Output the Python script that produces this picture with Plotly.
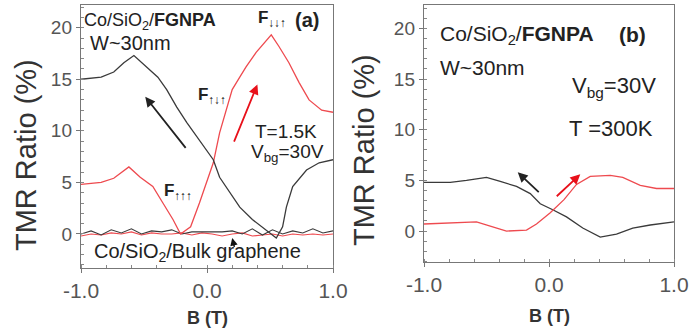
import plotly.graph_objects as go

# ---------------- data ----------------
# Panel (a): FGNPA, T = 1.5 K
a_black_B = [-1.0, -0.84, -0.74, -0.66, -0.58, -0.50, -0.39, -0.32, -0.24, -0.16, -0.06,
             0.05, 0.10, 0.18, 0.26, 0.36, 0.47, 0.55, 0.60, 0.63, 0.68, 0.79, 0.89, 1.0]
a_black_T = [15.0, 15.2, 15.7, 16.6, 17.3, 16.4, 15.2, 14.0, 12.3, 10.8, 9.1,
             7.2, 5.5, 4.0, 2.6, 1.4, 0.4, -0.4, 0.7, 2.6, 4.6, 6.2, 6.9, 7.2]

a_red_B = [-1.0, -0.84, -0.74, -0.62, -0.53, -0.43, -0.35, -0.27, -0.21, -0.13, -0.06,
           0.0, 0.05, 0.10, 0.16, 0.20, 0.26, 0.31, 0.39, 0.47, 0.51, 0.57, 0.65, 0.73,
           0.81, 0.91, 1.0]
a_red_T = [4.8, 5.0, 5.4, 6.5, 5.5, 4.6, 3.0, 1.4, 0.0, 0.7, 3.0,
           5.2, 6.9, 9.8, 12.3, 14.0, 15.2, 16.2, 17.6, 18.8, 19.3, 18.2, 16.6, 14.7,
           13.0, 12.0, 11.8]

# Bulk graphene reference device (near zero)
bulk_B = [-1.0, -0.92, -0.84, -0.76, -0.68, -0.60, -0.52, -0.44, -0.36, -0.28, -0.20,
          -0.12, -0.04, 0.04, 0.12, 0.20, 0.28, 0.36, 0.44, 0.52, 0.60, 0.68, 0.76,
          0.84, 0.92, 1.0]
bulk_black_T = [0.0, 0.3, -0.1, 0.4, 0.1, 0.5, 0.0, 0.3, 0.2, 0.4, 0.0, 0.2, 0.2,
                0.2, 0.2, 0.3, 0.0, 0.5, -0.1, 0.4, 0.0, 0.3, 0.1, 0.5, 0.1, 0.3]
bulk_red_T = [-0.2, 0.0, -0.1, 0.1, 0.0, 0.2, -0.1, 0.1, 0.0, 0.0, 0.1, -0.1, 0.1,
              0.0, -0.2, 0.0, 0.1, -0.2, -0.1, 0.0, -0.2, 0.0, -0.1, 0.0, -0.1, 0.0]

# Panel (b): FGNPA, T = 300 K
b_black_B = [-1.0, -0.79, -0.66, -0.50, -0.39, -0.26, -0.15, -0.07, 0.03, 0.14, 0.27,
             0.41, 0.54, 0.67, 0.81, 1.0]
b_black_T = [4.8, 4.8, 5.0, 5.3, 4.9, 4.4, 3.7, 2.7, 2.1, 1.4, 0.3,
             -0.6, -0.3, 0.3, 0.6, 0.9]

b_red_B = [-1.0, -0.79, -0.58, -0.47, -0.34, -0.18, -0.10, 0.01, 0.12, 0.22, 0.33,
           0.49, 0.59, 0.73, 0.86, 1.0]
b_red_T = [0.7, 0.8, 0.9, 0.5, 0.0, 0.1, 0.7, 1.8, 3.1, 4.6, 5.4,
           5.5, 5.3, 4.5, 4.2, 4.2]

x_tickvals = [-1.0, 0.0, 1.0]
x_ticktext = ["-1.0", "0.0", "1.0"]
y_tickvals = [0, 5, 10, 15, 20]
y_ticktext = ["0", "5", "10", "15", "20"]

# ---------------- styling ----------------
BLACK = "#3a3a3a"
RED = "#ee4a4f"
ARROW_RED = "#e8101a"
TXT = "#222222"
TICK = "#555555"
FONT = "Liberation Sans, Arial, sans-serif"
W, H = 694, 332

fig = go.Figure()

def line(x, y, color, xa, ya, width=1.3):
    fig.add_trace(go.Scatter(x=x, y=y, mode="lines", xaxis=xa, yaxis=ya,
                             line=dict(color=color, width=width), showlegend=False,
                             hoverinfo="skip"))

line(bulk_B, bulk_red_T, RED, "x", "y", 1.1)
line(bulk_B, bulk_black_T, BLACK, "x", "y", 1.1)
line(a_red_B, a_red_T, RED, "x", "y")
line(a_black_B, a_black_T, BLACK, "x", "y")
line(b_black_B, b_black_T, BLACK, "x2", "y2")
line(b_red_B, b_red_T, RED, "x2", "y2")

def px(x):
    return x / W

def py(y):
    return 1 - y / H

axis_common = dict(showgrid=False, zeroline=False, showline=True, linecolor="#777777",
                   linewidth=1.4, mirror=True, ticks="outside", ticklen=4,
                   automargin=False,
                   tickcolor="#777777")
xfont = dict(family=FONT, size=21, color=TICK)
yfont = dict(family=FONT, size=19, color=TICK)

fig.update_layout(
    width=W, height=H, autosize=False,
    margin=dict(l=0, r=0, t=0, b=0, pad=0),
    paper_bgcolor="white", plot_bgcolor="white",
    xaxis=dict(domain=[px(81), px(333)], range=[-1, 1], anchor="y",
               tickvals=x_tickvals, ticktext=x_ticktext, tickfont=xfont,
               minor=dict(ticks="inside", ticklen=3, dtick=0.2, tickcolor="#888888"),
               **axis_common),
    yaxis=dict(domain=[py(268), py(5)], range=[-3.3, 22.2], anchor="x",
               tickvals=y_tickvals, ticktext=y_ticktext, tickfont=yfont,
               minor=dict(ticks="inside", ticklen=3, dtick=1, tickcolor="#888888"),
               **axis_common),
    xaxis2=dict(domain=[px(424), px(674)], range=[-1, 1], anchor="y2",
                tickvals=x_tickvals, ticktext=x_ticktext, tickfont=xfont,
                minor=dict(ticks="inside", ticklen=3, dtick=0.2, tickcolor="#888888"),
                **axis_common),
    yaxis2=dict(domain=[py(262), py(5)], range=[-3.05, 22.3], anchor="x2",
                tickvals=y_tickvals, ticktext=y_ticktext, tickfont=yfont,
                minor=dict(ticks="inside", ticklen=3, dtick=1, tickcolor="#888888"),
                **axis_common),
)

ann = []

def text(x, y, s, size=18, xanchor="left", angle=0, color=TXT):
    ann.append(dict(x=px(x), y=py(y), xref="paper", yref="paper", text=s, showarrow=False,
                    xanchor=xanchor, yanchor="middle", textangle=angle,
                    font=dict(family=FONT, size=size, color=color)))

# axis titles
text(26, 155, "TMR Ratio (%)", 29, "center", -90, "#333333")
text(364, 150, "TMR Ratio (%)", 29, "center", -90, "#333333")
text(207, 318, "<b>B (T)</b>", 18, "center", 0, "#333333")
text(549, 316, "<b>B (T)</b>", 18, "center", 0, "#333333")

# panel (a) labels
text(82, 21, "Co/SiO<sub>2</sub>/<b>FGNPA</b>", 18)
text(88, 43, "W~30nm", 20)
text(256, 19, "<b>F</b><sub>↓↓↑</sub>", 17)
text(293, 20, "<b>(a)</b>", 20)
text(196, 96, "<b>F</b><sub>↑↓↑</sub>", 17)
text(162, 192, "<b>F</b><sub>↑↑↑</sub>", 17)
text(253, 131, "T=1.5K", 19)
text(249, 153, "V<sub>bg</sub>=30V", 19)
text(92, 252, "Co/SiO<sub>2</sub>/Bulk graphene", 20)

# panel (b) labels
text(438, 35, "Co/SiO<sub>2</sub>/<b>FGNPA</b>", 21)
text(617, 35, "<b>(b)</b>", 21)
text(438, 67, "W~30nm", 21)
text(570, 87, "V<sub>bg</sub>=30V", 22)
text(567, 128, "T =300K", 22)

def arrow(xa, ya, tail, head, color, width=1.6, size=1.1):
    ann.append(dict(x=head[0], y=head[1], ax=tail[0], ay=tail[1], xref=xa, yref=ya,
                    axref=xa, ayref=ya, showarrow=True, arrowhead=2, arrowsize=size,
                    arrowwidth=width, arrowcolor=color, text=""))

arrow("x", "y", (-0.16, 8.2), (-0.49, 13.3), "#222222", 1.8)
arrow("x", "y", (0.21, 8.8), (0.40, 14.5), ARROW_RED, 1.8)
arrow("x", "y", (0.22, -1.4), (0.20, -0.4), "#111111", 1.5, 1.0)
arrow("x2", "y2", (-0.07, 3.7), (-0.25, 5.8), "#222222", 1.8)
arrow("x2", "y2", (0.05, 3.3), (0.25, 5.6), ARROW_RED, 1.8)

fig.update_layout(annotations=ann)
fig.write_html("out.html", config={"displayModeBar": False},
               post_script="document.body.style.margin='0';document.body.style.overflow='hidden';")
